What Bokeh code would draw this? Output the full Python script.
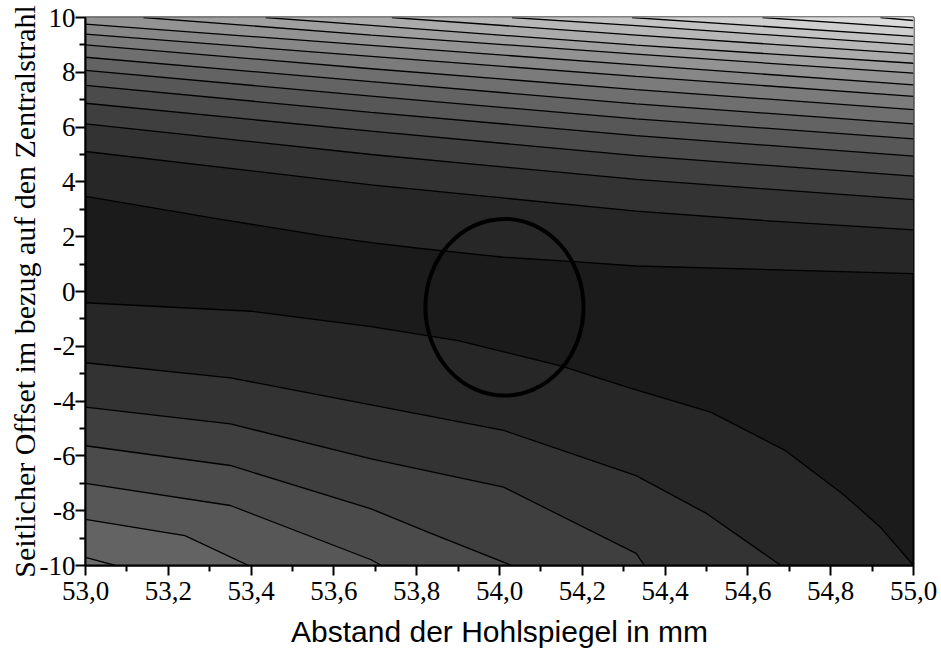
from bokeh.plotting import figure
from bokeh.models import FixedTicker, CustomJSTickFormatter, Range1d
from bokeh.embed import file_html
from bokeh.resources import INLINE

# ---- axes ----
X_LIM = [53.0, 55.0]
Y_LIM = [-10.0, 10.0]
X_TICKS = [53.0, 53.2, 53.4, 53.6, 53.8, 54.0, 54.2, 54.4, 54.6, 54.8, 55.0]
X_MINOR = [53.1, 53.3, 53.5, 53.7, 53.9, 54.1, 54.3, 54.5, 54.7, 54.9]
Y_TICKS = [-10, -8, -6, -4, -2, 0, 2, 4, 6, 8, 10]
Y_MINOR = [-9, -7, -5, -3, -1, 1, 3, 5, 7, 9]
X_TITLE = "Abstand der Hohlspiegel in mm"
Y_TITLE = "Seitlicher Offset im bezug auf den Zentralstrahl"

# ---- contour lines above the central minimum (level 1 .. 17) ----
T1_X = [53.0, 53.32, 53.57, 53.69, 53.81, 54.01, 54.18, 54.33, 54.65, 55.0]
T1_Y = [3.47, 2.65, 2.04, 1.78, 1.57, 1.25, 1.09, 0.93, 0.80, 0.65]
T2_X = [53.0, 53.69, 54.33, 54.64, 55.0]
T2_Y = [5.11, 3.89, 2.93, 2.59, 2.25]
T3_X = [53.0, 53.69, 54.33, 55.0]
T3_Y = [6.12, 5.00, 4.09, 3.35]
T4_X = [53.0, 53.69, 54.33, 55.0]
T4_Y = [6.87, 5.85, 4.96, 4.21]
T5_X = [53.0, 53.69, 54.33, 55.0]
T5_Y = [7.52, 6.54, 5.69, 4.94]
T6_X = [53.0, 53.69, 54.33, 55.0]
T6_Y = [8.07, 7.13, 6.30, 5.57]
T7_X = [53.0, 53.69, 54.33, 55.0]
T7_Y = [8.55, 7.66, 6.85, 6.12]
T8_X = [53.0, 53.69, 54.33, 55.0]
T8_Y = [9.00, 8.13, 7.37, 6.64]
T9_X = [53.0, 53.69, 54.33, 55.0]
T9_Y = [9.39, 8.58, 7.85, 7.12]
T10_X = [53.0, 53.69, 54.33, 55.0]
T10_Y = [9.76, 8.98, 8.27, 7.54]
T11_X = [53.14, 53.69, 54.33, 55.0]
T11_Y = [10.0, 9.36, 8.66, 7.97]
T12_X = [53.435, 53.69, 54.33, 55.0]
T12_Y = [10.0, 9.71, 8.99, 8.33]
T13_X = [53.74, 54.33, 55.0]
T13_Y = [10.0, 9.36, 8.67]
T14_X = [54.03, 54.33, 55.0]
T14_Y = [10.0, 9.70, 9.00]
T15_X = [54.32, 55.0]
T15_Y = [10.0, 9.31]
T16_X = [54.635, 55.0]
T16_Y = [10.0, 9.62]
T17_X = [54.92, 55.0]
T17_Y = [10.0, 9.89]

# ---- contour lines below the central minimum (level 1 .. 7) ----
B1_X = [53.0, 53.4, 53.69, 53.9, 54.15, 54.31, 54.51, 54.69, 54.83, 54.92, 55.0]
B1_Y = [-0.41, -0.72, -1.28, -1.79, -2.72, -3.50, -4.40, -5.80, -7.40, -8.60, -10.0]
B2_X = [53.0, 53.35, 53.69, 54.01, 54.33, 54.5, 54.68]
B2_Y = [-2.60, -3.15, -4.14, -5.07, -6.72, -8.10, -10.0]
B3_X = [53.0, 53.35, 53.69, 54.01, 54.33, 54.35]
B3_Y = [-4.22, -4.83, -6.11, -7.14, -9.56, -10.0]
B4_X = [53.0, 53.35, 53.69, 53.83, 54.03]
B4_Y = [-5.63, -6.35, -7.93, -8.80, -10.0]
B5_X = [53.0, 53.35, 53.69, 53.715]
B5_Y = [-7.00, -7.81, -9.79, -10.0]
B6_X = [53.0, 53.24, 53.394]
B6_Y = [-8.32, -8.91, -10.0]
B7_X = [53.0, 53.072]
B7_Y = [-9.70, -10.0]

# ---- marked region (ellipse) ----
RING_X = 54.012
RING_Y = -0.575
RING_W = 0.382
RING_H = 6.45

UPPER = [(T1_X, T1_Y), (T2_X, T2_Y), (T3_X, T3_Y), (T4_X, T4_Y), (T5_X, T5_Y),
         (T6_X, T6_Y), (T7_X, T7_Y), (T8_X, T8_Y), (T9_X, T9_Y), (T10_X, T10_Y),
         (T11_X, T11_Y), (T12_X, T12_Y), (T13_X, T13_Y), (T14_X, T14_Y),
         (T15_X, T15_Y), (T16_X, T16_Y), (T17_X, T17_Y)]
LOWER = [(B1_X, B1_Y), (B2_X, B2_Y), (B3_X, B3_Y), (B4_X, B4_Y), (B5_X, B5_Y),
         (B6_X, B6_Y), (B7_X, B7_Y)]


def gray(level):
    g = min(255, 27 + 12 * level)
    return "#%02x%02x%02x" % (g, g, g)


p = figure(width=941, height=654, output_backend="svg", toolbar_location=None,
           x_range=Range1d(X_LIM[0], X_LIM[1]), y_range=Range1d(Y_LIM[0], Y_LIM[1]),
           min_border_left=85, min_border_right=28, min_border_top=17, min_border_bottom=89)

p.background_fill_color = gray(0)
p.border_fill_color = "white"
p.outline_line_color = "black"
p.outline_line_width = 2
p.xgrid.visible = False
p.ygrid.visible = False

# filled bands: region above each upper line, region below each lower line
xs, ys, cols = [], [], []
for k, (lx, ly) in enumerate(UPPER, start=1):
    xs.append(list(lx) + [X_LIM[1], lx[0]])
    ys.append(list(ly) + [Y_LIM[1], Y_LIM[1]])
    cols.append(gray(k))
for k, (lx, ly) in enumerate(LOWER, start=1):
    xs.append(list(lx) + [X_LIM[0]])
    ys.append(list(ly) + [Y_LIM[0]])
    cols.append(gray(k))
p.patches(xs, ys, fill_color=cols, line_color=None)

# contour lines
p.multi_line([list(a) for a, _ in UPPER + LOWER], [list(b) for _, b in UPPER + LOWER],
             line_color="black", line_width=1.3)

# ellipse
p.ellipse(x=[RING_X], y=[RING_Y], width=[RING_W], height=[RING_H],
          fill_alpha=0, line_color="black", line_width=4)

# axes
for ax in (p.xaxis[0], p.yaxis[0]):
    ax.axis_line_color = "black"
    ax.axis_line_width = 2
    ax.major_tick_line_color = "black"
    ax.major_tick_line_width = 2
    ax.minor_tick_line_color = "black"
    ax.minor_tick_line_width = 2
    ax.major_tick_in = 0
    ax.major_tick_out = 10
    ax.minor_tick_in = 0
    ax.minor_tick_out = 6
    ax.major_label_text_font = "Liberation Serif"
    ax.major_label_text_font_size = "27px"
    ax.major_label_text_color = "black"
    ax.axis_label_text_color = "black"
    ax.axis_label_text_font_style = "normal"

p.xaxis[0].ticker = FixedTicker(ticks=X_TICKS, minor_ticks=X_MINOR)
p.yaxis[0].ticker = FixedTicker(ticks=Y_TICKS, minor_ticks=Y_MINOR)
p.xaxis[0].formatter = CustomJSTickFormatter(code="return tick.toFixed(1).replace('.', ',');")
p.yaxis[0].formatter = CustomJSTickFormatter(code="return tick.toFixed(0);")
p.xaxis[0].axis_label = X_TITLE
p.yaxis[0].axis_label = Y_TITLE
p.xaxis[0].axis_label_text_font = "Liberation Sans"
p.xaxis[0].axis_label_text_font_size = "30px"
p.yaxis[0].axis_label_text_font = "Liberation Serif"
p.yaxis[0].axis_label_text_font_size = "30px"
p.xaxis[0].major_label_standoff = 6
p.yaxis[0].major_label_standoff = 0
p.xaxis[0].axis_label_standoff = 12
p.yaxis[0].axis_label_standoff = -4

open("out.html", "w").write(file_html(p, INLINE))
